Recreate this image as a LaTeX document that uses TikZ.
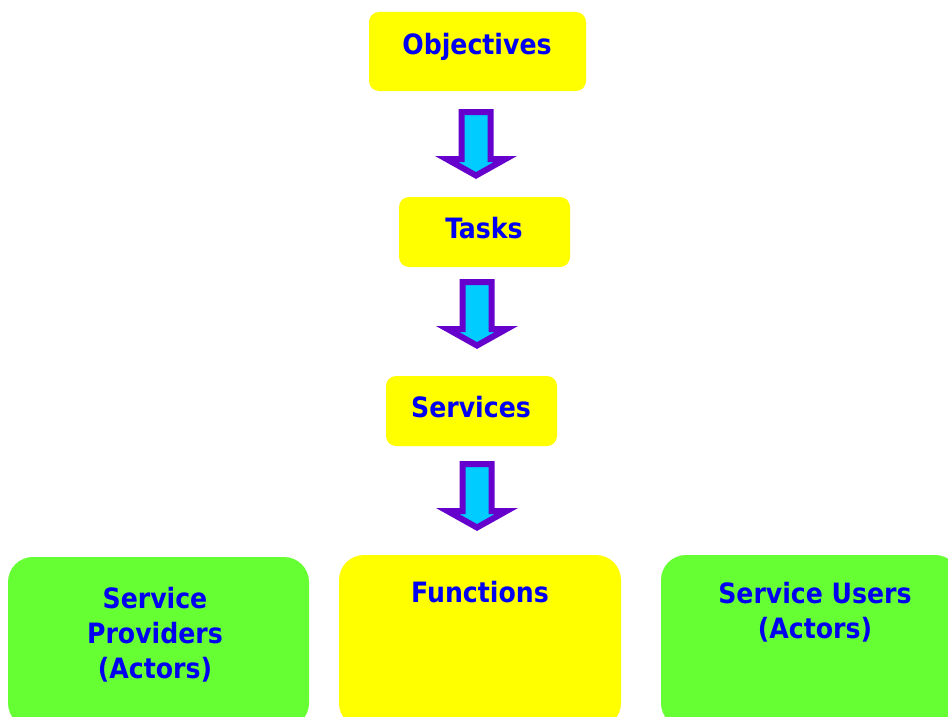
\documentclass[tikz,border=0pt]{standalone}
\usepackage{fontspec}
\setmainfont{DejaVu Sans Condensed}
\usetikzlibrary{positioning}

\definecolor{boxyellow}{HTML}{FFFF00}
\definecolor{boxgreen}{HTML}{66FF33}
\definecolor{textblue}{HTML}{0000F0}
\definecolor{arrowpurple}{HTML}{6600CC}
\definecolor{arrowcyan}{HTML}{00CCFF}

\tikzset{
  smallbox/.style={rectangle, rounded corners=10pt, fill=boxyellow, inner sep=0pt},
  bigbox/.style={rectangle, rounded corners=25pt, inner sep=0pt},
  lbl/.style={text=textblue, font=\fontsize{28}{35}\selectfont\bfseries, inner sep=0pt, align=center},
  blockarrow/.style={draw=arrowpurple, line width=6pt, fill=arrowcyan, miter limit=6}
}

% down arrow: #1 = x of centre, #2 = top edge
\newcommand{\downblock}[2]{%
  \draw[blockarrow, shift={(#1,#2)}] (-14.5,3) -- (14.5,3) -- (14.5,50) -- (29.5,50)
    -- (0,66.5) -- (-29.5,50) -- (-14.5,50) -- cycle;}

\begin{document}
\begin{tikzpicture}[x=1pt, y=-1pt]
  \useasboundingbox (0,0) rectangle (948,717);

  % top chain
  \node[smallbox, minimum width=217, minimum height=79] (objbox) at (477.5,51.5) {};
  \node[lbl, anchor=base] (obj) at (477,55) {Objectives};
  \node[smallbox, minimum width=171, minimum height=70] (taskbox) at (484.5,232) {};
  \node[lbl, anchor=base] (task) at (484,238) {Tasks};
  \node[smallbox, minimum width=171, minimum height=70] (servbox) at (471.5,411) {};
  \node[lbl, anchor=base] (serv) at (471,417) {Services};

  \downblock{476}{109}
  \downblock{477}{279}
  \downblock{477}{461}

  % bottom row
  \node[bigbox, fill=boxgreen, minimum width=301, minimum height=171] (provbox) at (158.5,642.5) {};
  \node[lbl, anchor=north] (prov) at (155,586.7) {Service\\Providers\\(Actors)};
  \node[bigbox, fill=boxyellow, minimum width=282, minimum height=173] (funcbox) at (480,641.5) {};
  \node[lbl, anchor=base] (func) at (480,602) {Functions};
  \node[bigbox, fill=boxgreen, minimum width=299, minimum height=173] (userbox) at (810.5,641.5) {};
  \node[lbl, anchor=north] (user) at (815,581.7) {Service Users\\(Actors)};
\end{tikzpicture}
\end{document}
